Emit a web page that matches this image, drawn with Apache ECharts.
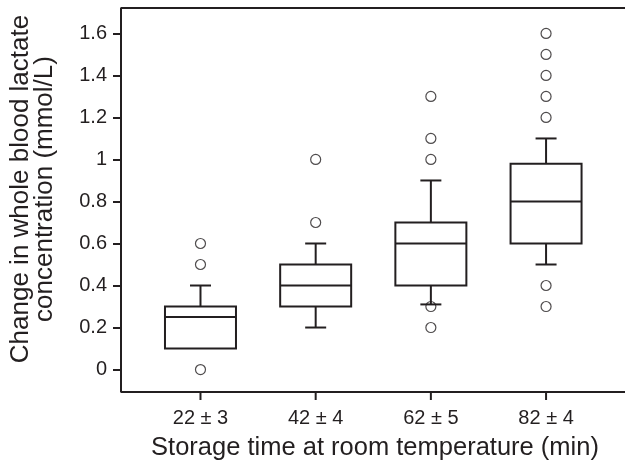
<!DOCTYPE html>
<html>
<head>
<meta charset="utf-8">
<script src="https://cdn.jsdelivr.net/npm/echarts@6/dist/echarts.min.js"></script>
<style>
  html, body { margin: 0; padding: 0; background: #fff; }
  #chart { width: 625px; height: 460px; }
</style>
</head>
<body>
<div id="chart"></div>
<script>
// storage time groups, placed at x = 1..4
const categories = ['22 ± 3', '42 ± 4', '62 ± 5', '82 ± 4'];
const positions = [1, 2, 3, 4];
// box plot stats per group (mmol/L)
const lowWhisker = [0.1, 0.2, 0.31, 0.5];
const q1 = [0.1, 0.3, 0.4, 0.6];
const median = [0.25, 0.4, 0.6, 0.8];
const q3 = [0.3, 0.5, 0.7, 0.98];
const highWhisker = [0.4, 0.6, 0.9, 1.1];
// outliers: [group position, value]
const outliers = [
    [1, 0], [1, 0.5], [1, 0.6],
    [2, 0.7], [2, 1.0],
    [3, 0.2], [3, 0.3], [3, 1.0], [3, 1.1], [3, 1.3],
    [4, 0.3], [4, 0.4], [4, 1.2], [4, 1.3], [4, 1.4], [4, 1.5], [4, 1.6]
];
const yTicks = [0, 0.2, 0.4, 0.6, 0.8, 1, 1.2, 1.4, 1.6];

const ink = '#231f20';
const xMin = 0.31;
const xMax = 4.72;
const yMin = -0.145;      // grid bottom, leaves room for the x ticks
const yMax = 1.721;
const frameBottom = -0.107; // where the bottom frame line sits
const boxWidth = 71;
const capWidth = 21;
const tickLen = 8;

const boxData = positions.map((p, i) => [p, lowWhisker[i], q1[i], median[i], q3[i], highWhisker[i]]);
// open frame: top, left and bottom lines
const frameData = [[xMax, yMax], [xMin, yMax], [xMin, frameBottom], [xMax, frameBottom]];

const renderBox = (params, api) => {
    const x = api.coord([api.value(0), 0])[0];
    const yLow = api.coord([0, api.value(1)])[1];
    const yQ1 = api.coord([0, api.value(2)])[1];
    const yMed = api.coord([0, api.value(3)])[1];
    const yQ3 = api.coord([0, api.value(4)])[1];
    const yHigh = api.coord([0, api.value(5)])[1];
    const axisY = api.coord([0, frameBottom])[1];
    const style = { stroke: ink, lineWidth: 2, fill: null };
    const hw = boxWidth / 2, cw = capWidth / 2;
    const children = [
        { type: 'rect', shape: { x: x - hw, y: yQ3, width: boxWidth, height: yQ1 - yQ3 }, style: style },
        { type: 'line', shape: { x1: x - hw, y1: yMed, x2: x + hw, y2: yMed }, style: style },
        // category tick under the x axis
        { type: 'line', shape: { x1: x, y1: axisY, x2: x, y2: axisY + tickLen }, style: style }
    ];
    if (yHigh < yQ3) {
        children.push({ type: 'line', shape: { x1: x, y1: yQ3, x2: x, y2: yHigh }, style: style });
        children.push({ type: 'line', shape: { x1: x - cw, y1: yHigh, x2: x + cw, y2: yHigh }, style: style });
    }
    if (yLow > yQ1) {
        children.push({ type: 'line', shape: { x1: x, y1: yQ1, x2: x, y2: yLow }, style: style });
        children.push({ type: 'line', shape: { x1: x - cw, y1: yLow, x2: x + cw, y2: yLow }, style: style });
    }
    return { type: 'group', children: children };
};

const chart = echarts.init(document.getElementById('chart'));
chart.setOption({
    backgroundColor: '#fff',
    animation: false,
    textStyle: { fontFamily: 'Liberation Sans, Arial, sans-serif', color: ink },
    grid: {
        left: 121, right: -4, top: 8, bottom: 60,
        show: false, containLabel: false, outerBoundsMode: 'none'
    },
    xAxis: {
        type: 'value', min: xMin, max: xMax,
        position: 'bottom',
        axisLine: { show: false, onZero: false },
        splitLine: { show: false },
        axisTick: { show: false },
        axisLabel: {
            margin: 8, fontSize: 20, color: ink, customValues: positions,
            formatter: (v) => categories[positions.indexOf(v)]
        },
        name: 'Storage time at room temperature (min)',
        nameLocation: 'middle',
        nameGap: 35,
        nameTextStyle: { fontSize: 25.5, color: ink }
    },
    yAxis: {
        type: 'value', min: yMin, max: yMax,
        axisLine: { show: false },
        splitLine: { show: false },
        axisTick: { show: true, length: tickLen, customValues: yTicks, lineStyle: { color: ink, width: 2 } },
        axisLabel: { margin: 14, fontSize: 20, color: ink, customValues: yTicks },
        name: 'Change in whole blood lactate\nconcentration (mmol/L)',
        nameLocation: 'middle',
        nameGap: 64,
        nameTextStyle: { fontSize: 26, lineHeight: 24, color: ink, padding: [0, 0, 0, 30] }
    },
    series: [
        {
            type: 'line',
            data: frameData,
            symbol: 'none',
            clip: false,
            lineStyle: { color: ink, width: 2 },
            silent: true
        },
        {
            type: 'custom',
            data: boxData,
            renderItem: renderBox,
            clip: false,
            silent: true
        },
        {
            type: 'scatter',
            data: outliers,
            symbol: 'circle',
            symbolSize: 10,
            itemStyle: { color: 'transparent', borderColor: ink, borderWidth: 1.2 },
            silent: true
        }
    ]
});
</script>
</body>
</html>
